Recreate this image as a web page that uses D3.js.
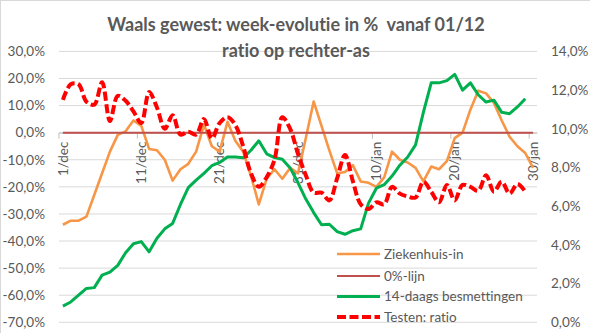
<!DOCTYPE html>
<html>
<head>
<meta charset="utf-8">
<script src="https://cdn.jsdelivr.net/npm/d3@7"></script>
<style>
  html, body { margin: 0; padding: 0; background: #fff; }
  svg { display: block; font-family: Lato, "Open Sans", sans-serif; font-variant-ligatures: none; }
</style>
</head>
<body>
<svg id="chart" width="590" height="333"></svg>
<script>
// Days 1 Dec – 30 Jan
const categories = [
  "1/dec","2/dec","3/dec","4/dec","5/dec","6/dec","7/dec","8/dec","9/dec","10/dec",
  "11/dec","12/dec","13/dec","14/dec","15/dec","16/dec","17/dec","18/dec","19/dec","20/dec",
  "21/dec","22/dec","23/dec","24/dec","25/dec","26/dec","27/dec","28/dec","29/dec","30/dec",
  "31/dec","1/jan","2/jan","3/jan","4/jan","5/jan","6/jan","7/jan","8/jan","9/jan",
  "10/jan","11/jan","12/jan","13/jan","14/jan","15/jan","16/jan","17/jan","18/jan","19/jan",
  "20/jan","21/jan","22/jan","23/jan","24/jan","25/jan","26/jan","27/jan","28/jan","29/jan",
  "30/jan"
];
const xTickLabels = ["1/dec","11/dec","21/dec","31/dec","10/jan","20/jan","30/jan"];

// Week-over-week change, % (left axis)
const ziekenhuisIn = [
  -34, -32.5, -32.5, -31, -23, -15, -7, -0.8, 0.5, 4.5,
  2.5, -6, -6.5, -10, -17.7, -13.5, -11.5, -7, 3, -5,
  -7, 4, -3, -7, -16, -26.5, -17, -13.5, -17, -13,
  -15, -2, 11.5, 2.5, -6.5, -15, -14.5, -12, -18, -18.5,
  -20, -16.5, -7, -10, -11, -13, -18, -12.5, -13.5, -10.5,
  -2, 0, 8.5, 15.5, 14.5, 11, 4.5, -1.5, -5, -7.5,
  -13
];
const nulLijn = categories.map(() => 0);
const besmettingen14 = [
  -64, -62.5, -60, -57.5, -57.2, -52.6, -51.5, -49, -44.3, -41,
  -40.2, -44, -39, -35.5, -33.5, -26.5, -20.3, -17.5, -15, -12.2,
  -11, -9, -9, -9.3, -6.5, -3, -7.8, -9.2, -9.8, -13,
  -18.5, -24.5, -29.5, -34, -33.8, -36.5, -37.5, -36.2, -35.5, -26,
  -20.5, -19.2, -16, -12, -9, -4.5, 7.5, 18.4, 18.4, 19.2,
  21.5, 15.7, 18.4, 14, 11.3, 12, 7.5, 7, 9.5, 12.5,
  null
];
// Positivity ratio, % (right axis)
const testenRatio = [
  11.5, 12.3, 12.3, 11.4, 11.25, 12.4, 10.4, 11.7, 11.45, 10.9,
  10.3, 11.9, 11.1, 10.0, 10.7, 9.7, 9.85, 9.7, 10.5, 9.5,
  10.3, 10.6, 10.2, 9.1, 7.7, 7.0, 7.5, 8.4, 10.6, 10.0,
  8.7, 7.6, 6.7, 6.7, 6.3, 7.45, 8.65, 7.3, 6.1, 5.85,
  6.2, 6.1, 7.0, 6.65, 6.5, 6.45, 7.27, 6.75, 6.2, 7.1,
  6.3, 7.1, 7.0, 6.8, 7.6, 6.75, 7.27, 6.65, 7.15, 6.75,
  null
];

const leftTicks = [30, 20, 10, 0, -10, -20, -30, -40, -50, -60, -70];
const rightTicks = [0, 2, 4, 6, 8, 10, 12, 14];

const series = [
  { name: "Ziekenhuis-in", values: ziekenhuisIn, axis: "left", color: "#F79646", width: 2.6, dash: null, smooth: false },
  { name: "0%-lijn", values: nulLijn, axis: "left", color: "#C0504D", width: 2, dash: null, smooth: false },
  { name: "14-daags besmettingen", values: besmettingen14, axis: "left", color: "#00B050", width: 3, dash: null, smooth: false },
  { name: "Testen: ratio", values: testenRatio, axis: "right", color: "#FF0000", width: 4, dash: "9,3.5", smooth: true }
];

const textColor = "#595959";
const gridColor = "#D9D9D9";
const plot = { left: 59, right: 537, top: 51.4, bottom: 322.3 };

const svg = d3.select("#chart");

// chart area border
svg.append("rect")
  .attr("x", 0.5).attr("y", 0.5)
  .attr("width", 600).attr("height", 340)
  .attr("fill", "#fff").attr("stroke", gridColor);

const x = d3.scaleBand().domain(categories).range([plot.left, plot.right]);
const cx = d => x(d) + x.bandwidth() / 2;
const yL = d3.scaleLinear().domain([-70, 30]).range([plot.bottom, plot.top]);
const yR = d3.scaleLinear().domain([0, 14]).range([plot.bottom, plot.top]);

const pct = v => d3.format(".1f")(v).replace(".", ",").replace("−", "-") + "%";

// horizontal gridlines
svg.append("g")
  .selectAll("line")
  .data(leftTicks)
  .join("line")
  .attr("x1", plot.left).attr("x2", plot.right)
  .attr("y1", d => yL(d)).attr("y2", d => yL(d))
  .attr("stroke", gridColor).attr("stroke-width", 1);

// left axis
const gLeft = svg.append("g")
  .attr("transform", `translate(${plot.left},0)`)
  .call(d3.axisLeft(yL).tickValues(leftTicks).tickFormat(pct).tickSize(0).tickPadding(14));
gLeft.select(".domain").remove();

// right axis
const gRight = svg.append("g")
  .attr("transform", `translate(${plot.right},0)`)
  .call(d3.axisRight(yR).tickValues(rightTicks).tickFormat(pct).tickSize(0).tickPadding(14));
gRight.select(".domain").remove();

[gLeft, gRight].forEach(g => g.selectAll("text")
  .attr("fill", textColor)
  .style("font-size", "13.5px")
  .style("font-family", "Lato, sans-serif"));

// category axis crossing at 0
const y0 = yL(0);
const gX = svg.append("g")
  .attr("transform", `translate(0,${y0})`)
  .call(d3.axisBottom(x).tickValues(xTickLabels).tickSize(0));
gX.select(".domain").attr("stroke", "#BFBFBF");
gX.selectAll("text")
  .attr("transform", "rotate(-90)")
  .attr("x", -9).attr("y", 0).attr("dy", "0.35em")
  .attr("text-anchor", "end")
  .attr("fill", textColor)
  .style("font-size", "13.5px")
  .style("font-family", "Lato, sans-serif");

// tick marks on category boundaries
svg.append("g")
  .selectAll("line")
  .data(xTickLabels)
  .join("line")
  .attr("x1", d => x(d)).attr("x2", d => x(d))
  .attr("y1", y0).attr("y2", y0 + 6)
  .attr("stroke", "#BFBFBF").attr("stroke-width", 1);

// series lines
const gLines = svg.append("g");
series.forEach(s => {
  const yScale = s.axis === "left" ? yL : yR;
  const line = d3.line()
    .defined(d => d.v != null)
    .x(d => cx(d.c))
    .y(d => yScale(d.v))
    .curve(s.smooth ? d3.curveCatmullRom.alpha(0.5) : d3.curveLinear);
  const data = categories.map((c, i) => ({ c, v: s.values[i] }));
  gLines.append("path")
    .datum(data)
    .attr("d", line)
    .attr("fill", "none")
    .attr("stroke", s.color)
    .attr("stroke-width", s.width)
    .attr("stroke-linejoin", "round")
    .attr("stroke-dasharray", s.dash);
});

// title
const title = svg.append("g").attr("fill", textColor)
  .style("font-family", "Lato, sans-serif").style("font-weight", "bold").style("font-size", "18px");
title.append("text").attr("x", 296).attr("y", 31).attr("text-anchor", "middle")
  .attr("xml:space", "preserve")
  .text("Waals gewest: week-evolutie in %  vanaf 01/12");
title.append("text").attr("x", 296).attr("y", 57).attr("text-anchor", "middle")
  .text("ratio op rechter-as");

// legend
const legendY = [254, 276, 296.5, 317];
const legend = svg.append("g");
series.forEach((s, i) => {
  const g = legend.append("g").attr("transform", `translate(337,${legendY[i]})`);
  g.append("line")
    .attr("x1", 0).attr("x2", 43).attr("y1", 0).attr("y2", 0)
    .attr("stroke", s.color).attr("stroke-width", s.width)
    .attr("stroke-dasharray", s.dash);
  g.append("text")
    .attr("x", 47).attr("y", 0).attr("dy", "0.35em")
    .attr("fill", textColor)
    .style("font-size", "13.5px")
    .style("font-family", "Lato, sans-serif")
    .text(s.name);
});
</script>
</body>
</html>
